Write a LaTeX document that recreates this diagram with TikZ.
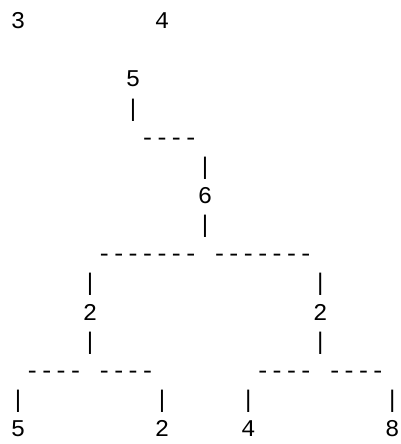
\documentclass[tikz,border=0pt]{standalone}
\usepackage{fontspec}
\setmonofont{Liberation Mono}
\begin{document}
\begin{tikzpicture}[x=14.4pt, y=-29.15pt, every node/.append style={font=\ttfamily\fontsize{24pt}{29pt}\selectfont, anchor=base, inner sep=0pt}]
  \useasboundingbox (-1.25,-0.981) rectangle (26.597,14.254);
  \node (top3) at (0,0) {3};      \node (top4) at (10,0) {4};
  \node (v5) at (8,2) {5};
  \node (bar5) at (8,3) {|};
  \node (dash5) at (10.5,4) {----};
  \node (bar6up) at (13,5) {|};
  \node (v6) at (13,6) {6};
  \node (bar6dn) at (13,7) {|};
  \node (dash6l) at (9,8) {-------};  \node (dash6r) at (17,8) {-------};
  % the two 2s
  \node (bar2lup) at (5,9) {|};   \node (bar2rup) at (21,9) {|};
  \node (v2l) at (5,10) {2};      \node (v2r) at (21,10) {2};
  \node (bar2ldn) at (5,11) {|};  \node (bar2rdn) at (21,11) {|};
  \node (dashll) at (2.5,12) {----};  \node (dashlr) at (7.5,12) {----};
  \node (dashrl) at (18.5,12) {----}; \node (dashrr) at (23.5,12) {----};
  % leaves
  \node (barl5) at (0,13) {|};  \node (barl2) at (10,13) {|};
  \node (barl4) at (16,13) {|}; \node (barl8) at (26,13) {|};
  \node (leaf5) at (0,14) {5};  \node (leaf2) at (10,14) {2};
  \node (leaf4) at (16,14) {4}; \node (leaf8) at (26,14) {8};
\end{tikzpicture}
\end{document}
